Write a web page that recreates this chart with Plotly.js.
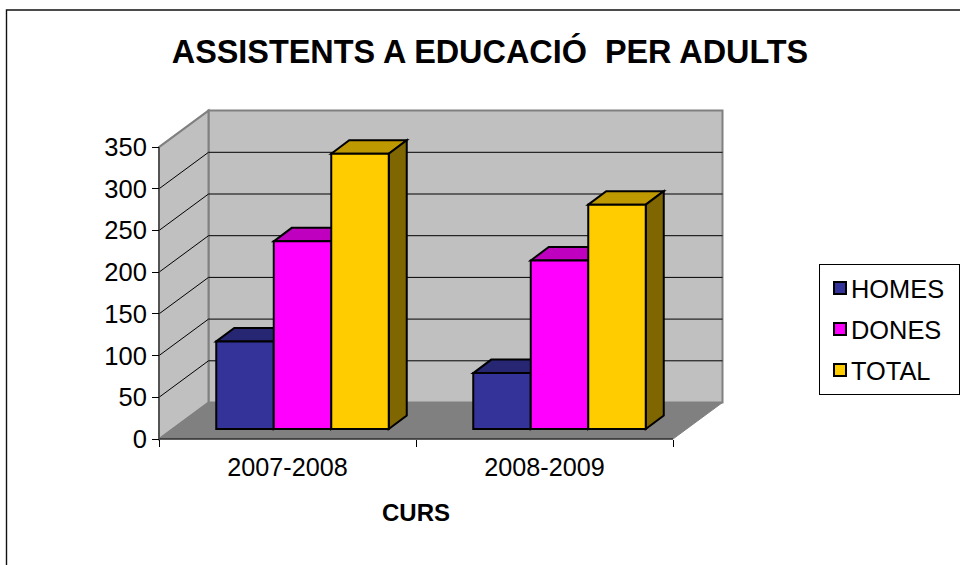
<!DOCTYPE html>
<html><head><meta charset="utf-8">
<script src="https://cdn.plot.ly/plotly-3.0.1.min.js"></script>
<style>html,body{margin:0;padding:0;background:#fff;overflow:hidden}#c{width:960px;height:565px}</style>
</head><body><div id="c"></div>
<script>
const categories = ['2007-2008', '2008-2009'];
const homes = [105, 67];
const dones = [225, 202];
const total = [330, 269];
const seriesNames = ['HOMES', 'DONES', 'TOTAL'];
const seriesValues = [homes, dones, total];
const frontColors = ['#333399', '#FF00FF', '#FFCC00'];
const topColors = ['#262673', '#BF00BF', '#BF9900'];
const sideColors = ['#1A1A4D', '#800080', '#806600'];
const yTicks = [0, 50, 100, 150, 200, 250, 300, 350];

const W = 960, H = 565;
const pxX = 257, pxY = 0.834, x0px = 159, y0px = 439;
const xRange = [-0.5 - x0px / pxX, -0.5 + (W - x0px) / pxX];
const yRange = [-(H - y0px) / pxY, y0px / pxY];
const wallDx = 49.5 / pxX, wallDy = 36.5 / pxY;
const barDx = 18 / pxX, barDy = 13.5 / pxY;
const barW = 57.5 / pxX, barShift = 15 / pxX, barBase = 12;
const xL = -0.5, xR = 1.5, yMax = 350;

const poly = (pts, fill, lineColor, lineWidth) => ({
  type: 'path', xref: 'x', yref: 'y', layer: 'below',
  path: 'M' + pts.map(p => p[0] + ',' + p[1]).join(' L') + ' Z',
  fillcolor: fill, line: {color: lineColor, width: lineWidth}
});
const seg = (pts, color, width) => ({
  type: 'path', xref: 'x', yref: 'y', layer: 'below',
  path: 'M' + pts.map(p => p[0] + ',' + p[1]).join(' L'),
  line: {color: color, width: width}
});

const shapes = [];
// walls and floor
shapes.push(poly([[xL + wallDx, wallDy], [xR + wallDx, wallDy], [xR + wallDx, yMax + wallDy], [xL + wallDx, yMax + wallDy]], '#C0C0C0', '#808080', 2));
shapes.push(poly([[xL, 0], [xL + wallDx, wallDy], [xL + wallDx, yMax + wallDy], [xL, yMax]], '#C0C0C0', '#808080', 2));
shapes.push(poly([[xL, 0], [xL + wallDx, wallDy], [xR + wallDx, wallDy], [xR, 0]], '#808080', '#808080', 1));
yTicks.slice(1, -1).forEach(v => {
  shapes.push(seg([[xL, v], [xL + wallDx, v + wallDy], [xR + wallDx, v + wallDy]], '#000', 1));
});
shapes.push(seg([[xL, 0], [xR, 0]], '#000', 1.2));
shapes.push(seg([[xL, 0], [xL, yMax]], '#444', 1.5));

// depth faces of the bars, hidden by the front faces drawn as bar traces
seriesValues.forEach((vals, s) => {
  vals.forEach((v, c) => {
    const a = c + barShift + (s - 1.5) * barW, b = a + barW, top = barBase + v;
    shapes.push(poly([[a, top], [a + barDx, top + barDy], [b + barDx, top + barDy], [b, top]], topColors[s], '#000', 2));
    shapes.push(poly([[b, barBase], [b + barDx, barBase + barDy], [b + barDx, top + barDy], [b, top]], sideColors[s], '#000', 2));
  });
});
// outer frame: the right and bottom edges fall outside the picture
shapes.push({type: 'rect', xref: 'paper', yref: 'paper', layer: 'above',
  x0: 6.5 / W, x1: 1.02, y0: -0.02, y1: 1 - 10 / H, line: {color: '#111', width: 1.4}});

const traces = seriesValues.map((vals, s) => ({
  type: 'bar', name: seriesNames[s], legendgroup: seriesNames[s],
  x: [0, 1], y: vals, base: barBase, width: barW,
  offset: barShift + (s - 1.5) * barW,
  marker: {color: frontColors[s], line: {color: '#000', width: 2}},
  hoverinfo: 'y'
}));

const font = 'Liberation Sans, Arial, sans-serif';
const layout = {
  width: W, height: H, margin: {l: 0, r: 0, t: 0, b: 0},
  paper_bgcolor: '#fff', plot_bgcolor: '#fff',
  font: {family: font, color: '#000'},
  title: {text: '<b>ASSISTENTS A EDUCACIÓ  PER ADULTS</b>', x: 490 / W, xanchor: 'center', y: 1 - 52 / H, yanchor: 'middle', font: {size: 32.4, family: font, color: '#000'}},
  barmode: 'overlay', showlegend: true,
  xaxis: {type: 'linear', range: xRange, anchor: 'free', position: 1 - y0px / H, domain: [0, 1],
    tickmode: 'array', tickvals: [0, 1], ticktext: categories, ticks: 'outside', ticklen: 6, tickcolor: 'rgba(0,0,0,0)',
    tickfont: {size: 25.2, family: font},
    minor: {tickmode: 'array', tickvals: [xL, 0.5, xR], ticks: 'outside', ticklen: 7, tickcolor: '#000', tickwidth: 1, showgrid: false},
    showgrid: false, zeroline: false, showline: false},
  yaxis: {type: 'linear', range: yRange, anchor: 'free', position: x0px / W, domain: [0, 1],
    tickmode: 'array', tickvals: yTicks, ticks: 'outside', ticklen: 7, tickcolor: '#000', tickwidth: 1,
    tickfont: {size: 25.5, family: font},
    showgrid: false, zeroline: false, showline: false},
  legend: {x: 819 / W, xanchor: 'left', y: 1 - 264 / H, yanchor: 'top', bgcolor: '#fff', bordercolor: '#000', borderwidth: 1,
    font: {size: 25.4, family: font}, traceorder: 'grouped', tracegroupgap: 5, itemwidth: 30,
    entrywidth: 170, entrywidthmode: 'pixels', itemclick: false, itemdoubleclick: false},
  annotations: [{text: '<b>CURS</b>', xref: 'x', yref: 'paper', x: 0.5, y: 1 - 512.5 / H, xanchor: 'center', yanchor: 'middle', showarrow: false, font: {size: 24, family: font}}],
  shapes: shapes
};
const gd = document.getElementById('c');
Plotly.newPlot(gd, traces, layout, {displayModeBar: false, responsive: false}).then(() => {
  gd.querySelectorAll('.legendtext').forEach(t => t.setAttribute('transform', 'translate(-9,0)'));
});
</script></body></html>
